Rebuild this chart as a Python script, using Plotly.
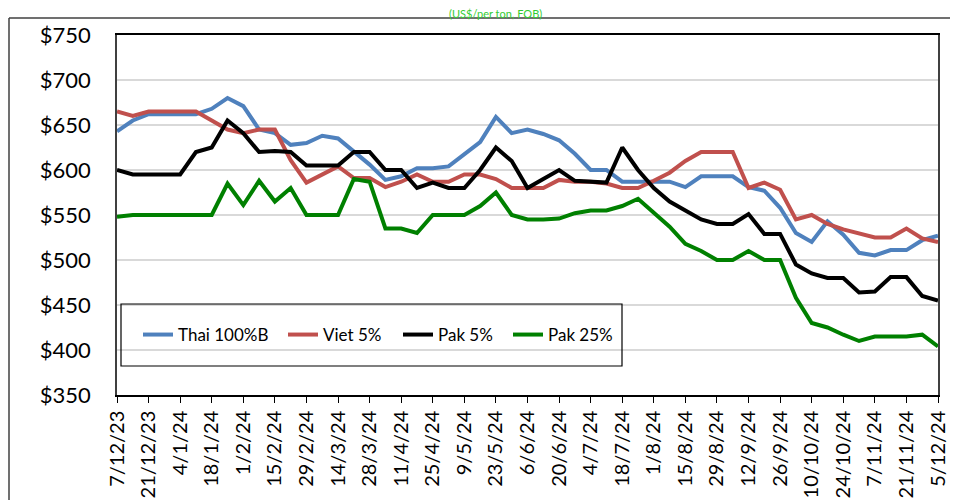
import plotly.graph_objects as go

dates = ["7/12/23", "14/12/23", "21/12/23", "28/12/23", "4/1/24", "11/1/24", "18/1/24", "25/1/24",
         "1/2/24", "8/2/24", "15/2/24", "22/2/24", "29/2/24", "7/3/24", "14/3/24", "21/3/24",
         "28/3/24", "4/4/24", "11/4/24", "18/4/24", "25/4/24", "2/5/24", "9/5/24", "16/5/24",
         "23/5/24", "30/5/24", "6/6/24", "13/6/24", "20/6/24", "27/6/24", "4/7/24", "11/7/24",
         "18/7/24", "25/7/24", "1/8/24", "8/8/24", "15/8/24", "22/8/24", "29/8/24", "5/9/24",
         "12/9/24", "19/9/24", "26/9/24", "3/10/24", "10/10/24", "17/10/24", "24/10/24", "31/10/24",
         "7/11/24", "14/11/24", "21/11/24", "28/11/24", "5/12/24"]

thai_100b = [643, 655, 662, 662, 662, 662, 668, 680, 671, 645, 641, 628, 630, 638, 635, 620,
             606, 589, 593, 602, 602, 604, 618, 631, 659, 641, 645, 640, 633, 618, 600, 600,
             587, 587, 587, 587, 581, 593, 593, 593, 581, 577, 558, 530, 520, 543, 528, 508,
             505, 511, 511, 522, 527]

viet_5 = [665, 660, 665, 665, 665, 665, 655, 645, 641, 645, 645, 611, 586, 595, 604, 591,
          591, 581, 587, 595, 587, 587, 595, 595, 590, 580, 580, 580, 589, 587, 587, 585,
          580, 580, 588, 597, 610, 620, 620, 620, 580, 586, 578, 545, 550, 540, 534, 529,
          525, 525, 535, 524, 520]

pak_5 = [600, 595, 595, 595, 595, 620, 625, 655, 641, 620, 621, 620, 605, 605, 605, 620,
         620, 600, 600, 580, 586, 580, 580, 600, 625, 610, 580, 590, 600, 588, 587, 586,
         625, 600, 580, 565, 555, 545, 540, 540, 551, 529, 529, 495, 485, 480, 480, 464,
         465, 481, 481, 460, 455]

pak_25 = [548, 550, 550, 550, 550, 550, 550, 585, 561, 588, 565, 580, 550, 550, 550, 590,
          587, 535, 535, 530, 550, 550, 550, 560, 575, 550, 545, 545, 546, 552, 555, 555,
          560, 568, 552, 537, 518, 510, 500, 500, 510, 500, 500, 458, 430, 425, 417, 410,
          415, 415, 415, 417, 404]

series_names = ["Thai 100%B", "Viet 5%", "Pak 5%", "Pak 25%"]
series_values = [thai_100b, viet_5, pak_5, pak_25]
series_colors = ["#4F81BD", "#C0504D", "#000000", "#008000"]

tick_labels = dates[::2]
y_ticks = [350, 400, 450, 500, 550, 600, 650, 700, 750]

FONT = "Lato, 'Open Sans', sans-serif"

# the page body adds an 8px margin; figure pixels = page pixels - 8
OFF = 8
W, H = 958 - OFF, 500 - OFF
L, R, T, B = 117 - OFF, 20, 35 - OFF, 105
pw, ph = W - L - R, H - T - B


def px(x):  # page x pixel -> paper
    return (x - OFF - L) / pw


def py(y):  # page y pixel -> paper
    return (H - B - (y - OFF)) / ph


legend_ids = ["legend", "legend2", "legend3", "legend4"]
legend_text_x = [178, 323, 438, 548]

fig = go.Figure()
for name, vals, col, lid in zip(series_names, series_values, series_colors, legend_ids):
    fig.add_trace(go.Scatter(x=dates, y=vals, name=name, mode="lines",
                             line=dict(color=col, width=4), legend=lid))

legend_layout = {}
for lid, tx in zip(legend_ids, legend_text_x):
    legend_layout[lid] = dict(orientation="h", x=px(tx - 40), y=py(335),
                              xanchor="left", yanchor="middle",
                              bgcolor="rgba(0,0,0,0)", borderwidth=0,
                              font=dict(family=FONT, size=17, color="black"))

fig.update_layout(
    width=W, height=H,
    margin=dict(l=L, r=R, t=T, b=B),
    paper_bgcolor="white", plot_bgcolor="white",
    font=dict(family=FONT, color="black"),
    showlegend=True,
    xaxis=dict(type="category", range=[0, len(dates) - 1], automargin=False,
               tickmode="array", tickvals=tick_labels, ticktext=tick_labels,
               tickangle=-90, ticks="outside", ticklen=6, tickcolor="black",
               showline=True, linecolor="black", linewidth=1.5, mirror=True,
               showgrid=False, tickfont=dict(family=FONT, size=20, color="black")),
    yaxis=dict(range=[350, 750], tickmode="array", tickvals=y_ticks, automargin=False,
               ticktext=["$" + str(v) for v in y_ticks],
               showline=True, linecolor="#404040", linewidth=1.5, mirror=True,
               showgrid=True, gridcolor="#D9D9D9", gridwidth=1.5, zeroline=False,
               ticks="", ticklabelstandoff=20,
               tickfont=dict(family=FONT, size=22, color="black")),
    shapes=[
        dict(type="rect", xref="paper", yref="paper", x0=px(121), x1=px(622),
             y0=py(366), y1=py(304), line=dict(color="black", width=1.2)),
        dict(type="line", xref="paper", yref="paper", x0=px(9), x1=px(970),
             y0=py(18), y1=py(18), line=dict(color="#404040", width=1.5)),
        dict(type="line", xref="paper", yref="paper", x0=px(9), x1=px(9),
             y0=py(18), y1=py(510), line=dict(color="#404040", width=1.5)),
    ],
    annotations=[
        dict(text="(US$/per ton, FOB)", xref="paper", yref="paper", x=px(495), y=py(13),
             xanchor="center", yanchor="middle", showarrow=False,
             font=dict(family=FONT, size=11, color="#33CC33")),
    ],
    **legend_layout,
)

fig.write_html("out.html")
